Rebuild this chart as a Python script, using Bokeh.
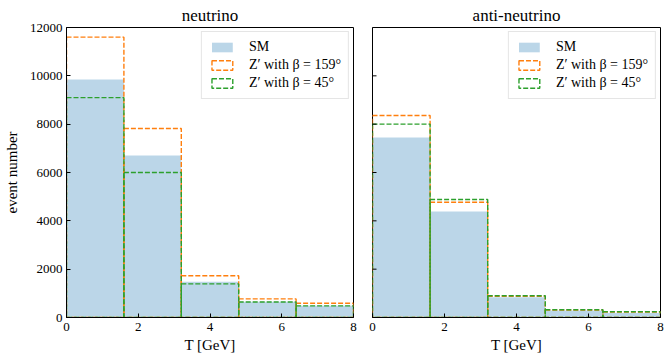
from bokeh.plotting import figure
from bokeh.layouts import row
from bokeh.models import FixedTicker, Range1d, Legend, LegendItem
from bokeh.embed import file_html
from bokeh.resources import INLINE

bin_edges = [0.0, 1.6, 3.2, 4.8, 6.4, 8.0]
nu_sm = [9850, 6700, 1480, 650, 490]
nu_z159 = [11600, 7820, 1730, 770, 590]
nu_z45 = [9100, 6000, 1390, 640, 480]
anu_sm = [7450, 4390, 840, 290, 190]
anu_z159 = [8360, 4770, 880, 310, 230]
anu_z45 = [8000, 4880, 900, 320, 240]
x_ticks = [0, 2, 4, 6, 8]
y_ticks = [0, 2000, 4000, 6000, 8000, 10000, 12000]

FONT = "Liberation Serif"
SM_COLOR = "#1f77b4"
C159 = "#ff7f0e"
C45 = "#2ca02c"


def make_panel(title, sm, z159, z45, width, left, right, show_ylabels):
    p = figure(width=width, height=355, output_backend="svg", toolbar_location=None,
               x_range=Range1d(0, 8), y_range=Range1d(0, 12000),
               min_border_left=left, min_border_right=right,
               min_border_top=0, min_border_bottom=0, title=title)
    p.title.text_font = FONT
    p.title.text_font_size = "17px"
    p.title.text_font_style = "normal"
    p.title.align = "center"
    p.title.text_color = "black"
    p.title.standoff = 6
    p.grid.visible = False
    p.outline_line_color = "black"
    p.outline_line_width = 1
    p.background_fill_color = "white"
    p.border_fill_color = "white"

    lefts = bin_edges[:-1]
    rights = bin_edges[1:]
    r_sm = p.quad(left=lefts, right=rights, bottom=0, top=sm,
                  fill_color=SM_COLOR, fill_alpha=0.3, line_color=None)
    r159 = p.quad(left=lefts, right=rights, bottom=0, top=z159,
                  fill_alpha=0, line_color=C159, line_width=1.4, line_dash="5 2")
    r45 = p.quad(left=lefts, right=rights, bottom=0, top=z45,
                 fill_alpha=0, line_color=C45, line_width=1.4, line_dash="5 2")

    legend = Legend(items=[
        LegendItem(label="SM", renderers=[r_sm]),
        LegendItem(label="Z′ with β = 159°", renderers=[r159]),
        LegendItem(label="Z′ with β = 45°", renderers=[r45]),
    ], location="top_right")
    legend.label_text_font = FONT
    legend.label_text_font_size = "14px"
    legend.label_text_color = "black"
    legend.glyph_width = 26
    legend.glyph_height = 12
    legend.label_standoff = 14
    legend.label_height = 14
    legend.spacing = 2
    legend.padding = 7
    legend.margin = 4
    legend.border_line_color = "#cccccc"
    legend.border_line_width = 1
    legend.background_fill_alpha = 0.8
    p.add_layout(legend)

    for ax in (p.xaxis, p.yaxis):
        ax.major_tick_in = 4
        ax.major_tick_out = 0
        ax.minor_tick_line_color = None
        ax.axis_line_color = "black"
        ax.major_tick_line_color = "black"
        ax.major_label_text_font = FONT
        ax.major_label_text_font_size = "13px"
        ax.major_label_text_color = "black"
        ax.axis_label_text_font = FONT
        ax.axis_label_text_font_size = "15px"
        ax.axis_label_text_font_style = "normal"
        ax.axis_label_text_color = "black"
    p.xaxis.ticker = FixedTicker(ticks=x_ticks)
    p.yaxis.ticker = FixedTicker(ticks=y_ticks)
    p.xaxis.axis_label = "T [GeV]"
    p.xaxis.major_label_standoff = 5
    p.xaxis.axis_label_standoff = 3
    if show_ylabels:
        p.yaxis.axis_label = "event number"
        p.yaxis.major_label_standoff = 4
        p.yaxis.axis_label_standoff = 7
    else:
        p.yaxis.visible = False
        # inward tick marks on the left spine (clipped to the frame)
        p.scatter(x=[0] * len(y_ticks), y=y_ticks, marker="dash", size=8,
                  line_color="black", line_width=1)
    return p


p1 = make_panel("neutrino", nu_sm, nu_z159, nu_z45, 362, 65, 9, True)
p2 = make_panel("anti-neutrino", anu_sm, anu_z159, anu_z45, 303, 10, 5, False)
layout = row(p1, p2)

open("out.html", "w").write(file_html(layout, INLINE))
